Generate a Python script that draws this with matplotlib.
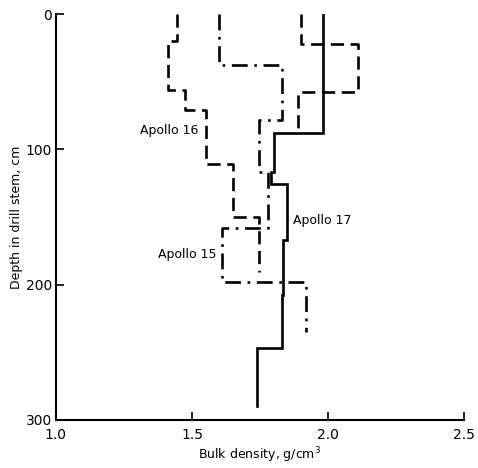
import numpy as np
import matplotlib
matplotlib.use("Agg")
import matplotlib.pyplot as plt

# Layer boundaries (cm) and bulk density of each layer (g/cm3)
a17_depth = [0, 88, 117, 126, 167, 208, 247, 290]
a17_density = [1.98, 1.80, 1.79, 1.85, 1.835, 1.83, 1.74]

a16_depth = [0, 20, 56, 71, 111, 150, 191]
a16_density = [1.445, 1.41, 1.475, 1.55, 1.65, 1.745]

a15_depth = [0, 38, 78, 117, 158, 198, 235]
a15_density = [1.60, 1.83, 1.745, 1.78, 1.61, 1.92]

upper_depth = [0, 22, 58, 88]
upper_density = [1.90, 2.11, 1.89]

xticks = [1.0, 1.5, 2.0, 2.5]
yticks = [0, 100, 200, 300]


def steps(depth, density):
    # vertical runs at each density, joined by horizontal steps
    y = np.repeat(depth, 2)[1:-1]
    x = np.repeat(density, 2)
    return x, y


plt.rcParams['font.family'] = ['DejaVu Sans']

fig = plt.figure(figsize=(4.78, 4.68), dpi=100)
ax = fig.add_axes([0.117, 0.103, 0.854, 0.867])

x, y = steps(a17_depth, a17_density)
ax.plot(x, y, color='black', lw=1.9, solid_joinstyle='miter')

x, y = steps(a16_depth, a16_density)
ax.plot(x, y, color='black', lw=1.9, dashes=(5, 2.5))

x, y = steps(a15_depth, a15_density)
ax.plot(x, y, color='black', lw=1.9, dashes=(6, 2.5, 1, 2.5))

x, y = steps(upper_depth, upper_density)
ax.plot(x, y, color='black', lw=1.9, dashes=(5, 2.5))

ax.text(1.522, 86, "Apollo 16", ha='right', va='center', fontsize=9)
ax.text(1.87, 153, "Apollo 17", ha='left', va='center', fontsize=9)
ax.text(1.59, 178, "Apollo 15", ha='right', va='center', fontsize=9)

ax.set_xlim(1.0, 2.5)
ax.set_ylim(300, 0)
ax.set_xticks(xticks)
ax.set_xticklabels(["1.0", "1.5", "2.0", "2.5"])
ax.set_yticks(yticks)
ax.tick_params(direction='in', length=6, width=1.2, labelsize=10, pad=3)
ax.tick_params(axis='x', pad=6)
for s in ['top', 'right']:
    ax.spines[s].set_visible(False)
for s in ['left', 'bottom']:
    ax.spines[s].set_linewidth(1.5)

ax.set_xlabel("Bulk density, g/cm$^3$", fontsize=9, labelpad=2)
ax.set_ylabel("Depth in drill stem, cm", fontsize=9, labelpad=2)

fig.savefig("out.png", dpi=100)
